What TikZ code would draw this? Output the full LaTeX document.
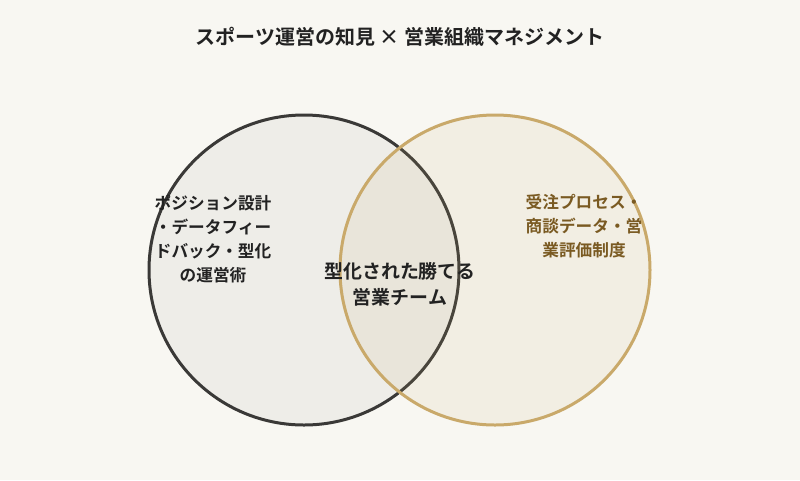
\documentclass[tikz,border=0pt]{standalone}
\usepackage{fontspec}
\setmainfont{Noto Sans CJK JP}[BoldFont={Noto Sans CJK JP Bold}]
\definecolor{bg}{HTML}{F8F7F2}
\definecolor{leftfill}{HTML}{EEEDE8}
\definecolor{leftline}{HTML}{3A3937}
\definecolor{gold}{HTML}{C9A96A}
\definecolor{goldtext}{HTML}{7A5A22}
\definecolor{ink}{HTML}{222222}
\begin{document}
\begin{tikzpicture}[x=0.75pt,y=-0.75pt,
  lbl/.style={font=\bfseries\fontsize{12.5}{18}\selectfont, align=center, text=ink, inner sep=0pt},
  midlbl/.style={font=\bfseries\fontsize{14.2}{19.5}\selectfont, align=center, text=ink, inner sep=0pt},
  ttl/.style={font=\bfseries\fontsize{15}{18}\selectfont, text=ink, inner sep=0pt}]
\fill[bg] (0,0) rectangle (800,480);
\useasboundingbox (0,0) rectangle (800,480);
\node[ttl] (title) at (400,37) {スポーツ運営の知見 × 営業組織マネジメント};
\draw[line width=2.25pt, draw=leftline, fill=leftfill] (304,270) circle[radius=155] coordinate (lc);
\draw[line width=2.25pt, draw=gold, fill=gold, fill opacity=0.11] (495,270) circle[radius=155] coordinate (rc);
\node[lbl] (left) at (213,239) {ポジション設計\\・データフィー\\ドバック・型化\\の運営術};
\node[lbl, text=goldtext] (right) at (584,226) {受注プロセス・\\商談データ・営\\業評価制度};
\node[midlbl] (mid) at (400,284) {型化された勝てる\\営業チーム};
\end{tikzpicture}
\end{document}
